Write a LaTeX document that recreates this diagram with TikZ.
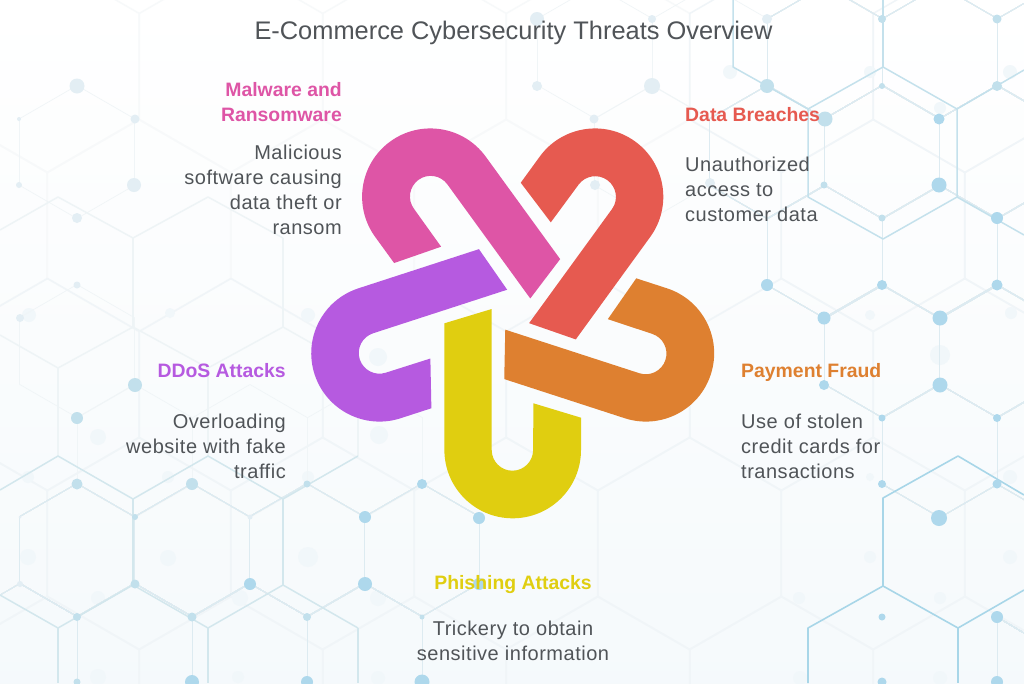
\documentclass[tikz,border=0pt]{standalone}
\usepackage{fontspec}
\setmainfont{Liberation Sans}
\newfontfamily\spacedfont[LetterSpace=2.6]{Liberation Sans}
\definecolor{petalyellow}{HTML}{E0CE10}
\definecolor{petalorange}{HTML}{DE8030}
\definecolor{petalred}{HTML}{E65A50}
\definecolor{petalpink}{HTML}{DE55A6}
\definecolor{petalpurple}{HTML}{B65AE0}
\definecolor{bodygrey}{HTML}{505458}
\definecolor{HexBig}{HTML}{F0F5F8}
\definecolor{HexDim}{HTML}{F7F9FA}
\definecolor{HexSoft}{HTML}{D3E7ED}
\definecolor{HexPale}{HTML}{EEF4F6}
\definecolor{HexFull}{HTML}{A8D6E8}
\definecolor{HexTop}{HTML}{C4E1EC}
\definecolor{ThinSoft}{HTML}{DDEBF1}
\definecolor{ThinPale}{HTML}{F0F5F7}
\definecolor{DotFull}{HTML}{AED8EC}
\definecolor{DotSoft}{HTML}{C2E0EC}
\definecolor{DotPale}{HTML}{E3EEF4}
\definecolor{BlobPale}{HTML}{F1F7FA}
\tikzset{
  bigline/.style={draw=HexBig,line width=1.5pt,line join=round},
  dimline/.style={draw=HexDim,line width=1.5pt,line join=round},
  softnet/.style={draw=HexSoft,line width=1.5pt,line join=round},
  palenet/.style={draw=HexPale,line width=1.5pt,line join=round},
  fullnet/.style={draw=HexFull,line width=1.6pt,line join=round},
  topnet/.style={draw=HexTop,line width=1.5pt,line join=round},
  thinline/.style={draw=ThinSoft,line width=0.7pt},
  thinpale/.style={draw=ThinPale,line width=0.7pt},
  heading/.style={inner sep=0pt,font=\bfseries\fontsize{19.4}{25}\selectfont},
  bodytext/.style={inner sep=0pt,text=bodygrey,font=\spacedfont\fontsize{20}{25}\selectfont}
}
% one hexagon: style, centre x, centre y, radius
\newcommand{\hexat}[4]{\draw[#1] (#2,#3-#4) -- ({#2+0.866*#4},{#3-0.5*#4}) -- ({#2+0.866*#4},{#3+0.5*#4}) -- (#2,#3+#4) -- ({#2-0.866*#4},{#3+0.5*#4}) -- ({#2-0.866*#4},{#3-0.5*#4}) -- cycle;}
\begin{document}
\begin{tikzpicture}[x=1pt,y=-1pt]
    \useasboundingbox (0,0) rectangle (1024,683);
    \clip (0,0) rectangle (1024,683);
    \shade[top color=white,bottom color=BlobPale!70!white] (0,0) rectangle (1024,683);

    % Big pale hexagons
    \foreach \cx in {-44.5,139,322.5,506,689.5} {
        \hexat{dimline}{\cx}{225.5}{106}
    }
    \foreach \cx in {47.5,231,414.5,598} {
        \hexat{dimline}{\cx}{66.5}{106}
    }
    \foreach \cx in {781.5,965} {
        \hexat{bigline}{\cx}{66.5}{106}
    }
    \foreach \cx in {873,1056.5} {
        \hexat{bigline}{\cx}{225.5}{106}
    }
    \foreach \cx in {-44.5,139,322.5,506,689.5,873,1056.5} {
        \hexat{bigline}{\cx}{543.5}{106}
    }
    \foreach \cx in {47.5,231,414.5,598,781.5,965} {
        \hexat{bigline}{\cx}{384.5}{106}
        \hexat{bigline}{\cx}{702.5}{106}
    }

    % Pale blobs
    \foreach \bx/\by/\br in {28/477/6,168/477/6,308/477/6,28/557/8,168/558/8,308/557/10,98/598/7,240/598/8,378/598/8,
        98/677/8,238/677/6,378/678/7,29/315/7,170/313/5,308/315/7,98/437/8,378/357/9,379/435/9,
        870/315/5,1011/313/6,940/355/10,870/477/4,1010/477/7,870/557/6,1010/557/7,799/598/6,940/598/6,800/678/7,940/678/7,
        730/72/7,870/72/6,1010/72/7,940/108/6}
        \fill[BlobPale] (\bx,\by) circle (\br pt);

    % Thin hexagons
    \foreach \cx/\cy in {77/152,77/351,135/451,250/451,365/451,595/52,710/52,652/152}
        \hexat{thinpale}{\cx}{\cy}{66.5}
    \foreach \cx/\cy in {77/550,192/550,307/550,422/550,20/650,135/650,250/650,365/650,
        767/152,882/152,997/152,825/52,940/52,1055/52,825/252,940/252,1055/252,882/351,997/351,940/451,1055/451}
        \hexat{thinline}{\cx}{\cy}{66.5}
    \draw[thinline] (997,617) -- (1024,633);
    \draw[thinline] (997,617) -- (997,683);

    % Heavy hexagon lines
    \draw[palenet] (0,230) -- (58,197) -- (133,238) -- (208,197) -- (283,238);
    \draw[palenet] (133,238) -- (133,327);
    \draw[palenet] (283,238) -- (283,327);
    \draw[palenet] (0,335) -- (58,368) -- (133,327) -- (208,368) -- (283,327) -- (320,348);
    \draw[palenet] (58,368) -- (58,456);
    \draw[palenet] (208,368) -- (208,456);
    \draw[palenet] (358,370) -- (358,456);
    \draw[softnet] (0,490) -- (58,456) -- (133,499) -- (208,456) -- (283,499) -- (358,456);
    \draw[softnet] (133,499) -- (133,585);
    \draw[softnet] (283,499) -- (283,585);
    \draw[softnet] (0,595) -- (58,628) -- (133,585) -- (208,628) -- (283,585) -- (358,628);
    \draw[softnet] (58,628) -- (58,683);
    \draw[softnet] (208,628) -- (208,683);
    \draw[softnet] (358,628) -- (358,683);

    \draw[topnet] (733,0) -- (733,67) -- (808,109) -- (808,197) -- (883,239) -- (957,197) -- (957,109) -- (883,67) -- (808,109);
    \draw[topnet] (883,0) -- (883,67);
    \draw[topnet] (957,109) -- (1024,70);
    \draw[topnet] (957,197) -- (1024,235);

    \draw[fullnet] (808,683) -- (808,628) -- (883,586) -- (883,498) -- (958,456) -- (1024,495);
    \draw[fullnet] (883,586) -- (958,628) -- (1024,590);
    \draw[fullnet] (958,628) -- (958,683);

    % Dots on the thin hexagons
    \foreach \dx/\dy/\dr in {77/86/7.5,135/119/4.5,19/119/2,19/185/3,134/185/7,77/218/5,77/285/3.5,20/318/4,
        537/19/7,652/19/4,537/86/5,652/86/8,594/119/4.5,595/185/5,710/183/5,767/19/5,20/517/1.5,20/584/3,250/517/2.5}
        \fill[DotPale] (\dx,\dy) circle (\dr pt);
    \foreach \dx/\dy/\dr in {135/385/7,77/418/6,77/484/5.5,192/484/6,307/484/3.5,135/517/3,135/584/4.5,77/617/4,192/617/4.5,307/617/4,77/682/3.5,
        767/86/7,882/19/4,997/19/4.5,882/86/3,997/86/5,825/119/7.5,824/185/3.5,882/218/3.5,422/617/2.5}
        \fill[DotSoft] (\dx,\dy) circle (\dr pt);
    \foreach \dx/\dy/\dr in {250/584/6,365/517/6,365/584/7,192/682/7,307/682/6,422/484/5,479/518/6,479/584/6,422/682/7.5,
        939/119/5.5,939/185/7.5,997/218/6,767/285/6,882/285/5,997/285/5.5,824/318/6.5,940/318/7.5,824/385/5,940/385/7.5,
        882/418/3.5,997/418/4,882/484/4,997/484/4.5,939/518/8,882/617/3.5,997/617/6,882/682/4.5,997/682/6}
        \fill[DotFull] (\dx,\dy) circle (\dr pt);

    % Five U shaped petals
    \foreach \ang/\col in {0/petalyellow,72/petalorange,144/petalred,216/petalpink,288/petalpurple} {
        \begin{scope}[shift={(512.7,310)},x=1pt,y=1pt,rotate=\ang]
            \fill[\col] (-21,1) -- (-21,-140) arc[start angle=180,end angle=360,radius=20.7pt]
                -- (20.7,-93.3) -- (68.3,-107.7) -- (68.3,-140)
                arc[start angle=0,end angle=-180,radius=68.3pt] -- (-68.3,-13.3) -- cycle;
        \end{scope}
    }

    % Title and labels
    \node[inner sep=0pt,text=bodygrey,font=\fontsize{25.4}{30}\selectfont] (title) at (513.5,33) {E-Commerce Cybersecurity Threats Overview};

    \node[heading,text=petalpink,align=right,anchor=north east] (malware) at (342,82) {Malware and\\Ransomware};
    \node[bodytext,align=right,anchor=north east] (malwaretext) at (342,144.7) {Malicious\\software causing\\data theft or\\ransom};

    \node[heading,text=petalred,anchor=north west] (breaches) at (685,107) {Data Breaches};
    \node[bodytext,align=left,anchor=north west] (breachestext) at (685,156.7) {Unauthorized\\access to\\customer data};

    \node[heading,text=petalorange,anchor=north west] (fraud) at (741,363) {Payment Fraud};
    \node[bodytext,align=left,anchor=north west] (fraudtext) at (741,413.5) {Use of stolen\\credit cards for\\transactions};

    \node[heading,text=petalpurple,anchor=north east] (ddos) at (286,363) {DDoS Attacks};
    \node[bodytext,align=right,anchor=north east] (ddostext) at (286,413.5) {Overloading\\website with fake\\traffic};

    \node[heading,text=petalyellow,anchor=north] (phishing) at (513,575) {Phishing Attacks};
    \node[bodytext,align=center,anchor=north] (phishingtext) at (513,620.5) {Trickery to obtain\\sensitive information};
\end{tikzpicture}
\end{document}
